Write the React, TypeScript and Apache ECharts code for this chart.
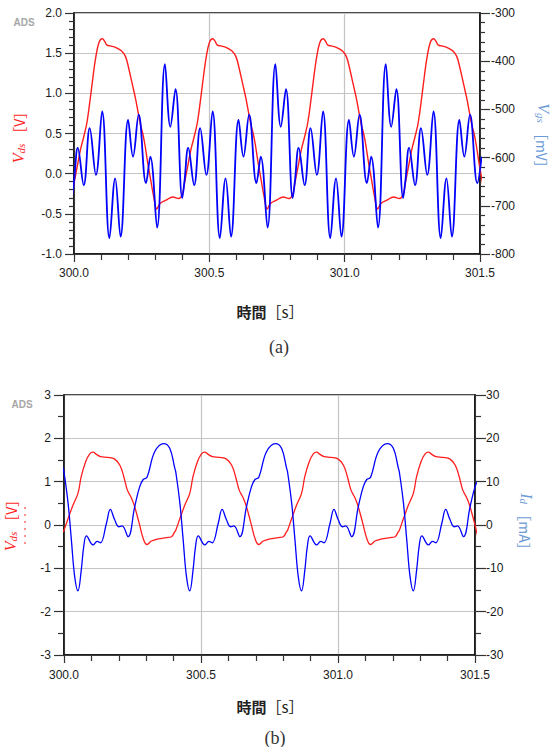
import React, { useEffect, useRef } from "react";
import * as echarts from "echarts";

// Period of the repeating waveform (s), read from successive peaks
const PERIOD_S = 0.408;
const T_START = 300.0;
const T_END = 301.5;

// (a) V_ds [V] over one period: [time offset (s), value]
const vdsA: number[][] = [
  [0.0, -0.12], [0.012, 0.09], [0.024, 0.3], [0.036, 0.46], [0.048, 0.64], [0.061, 0.96],
  [0.07, 1.2], [0.079, 1.42], [0.092, 1.63], [0.105, 1.68], [0.113, 1.65], [0.122, 1.6],
  [0.135, 1.59], [0.155, 1.57], [0.175, 1.53], [0.19, 1.46], [0.203, 1.3], [0.215, 1.12],
  [0.227, 0.94], [0.236, 0.78], [0.246, 0.6], [0.254, 0.5], [0.262, 0.36], [0.272, 0.14],
  [0.283, -0.07], [0.294, -0.28], [0.306, -0.44], [0.318, -0.37], [0.34, -0.33],
  [0.365, -0.29], [0.387, -0.31], [0.4, -0.26],
];

// (a) V_gs [mV] over one period
const vgsA: number[][] = [
  [0.0, -650], [0.014, -580], [0.036, -657], [0.058, -539], [0.081, -636], [0.104, -504],
  [0.131, -767], [0.152, -643], [0.172, -764], [0.2, -522], [0.218, -598], [0.239, -511],
  [0.266, -653], [0.282, -598], [0.307, -745], [0.336, -406], [0.356, -536], [0.375, -458],
  [0.4, -684],
];

// (b) V_ds [V] over one period
const vdsB: number[][] = [
  [0.0, -0.12], [0.015, 0.15], [0.033, 0.46], [0.051, 0.73], [0.063, 1.12], [0.079, 1.46],
  [0.094, 1.64], [0.106, 1.68], [0.118, 1.63], [0.133, 1.58], [0.161, 1.56], [0.185, 1.52],
  [0.204, 1.38], [0.218, 1.12], [0.231, 0.81], [0.244, 0.65], [0.256, 0.46], [0.274, 0.05],
  [0.29, -0.33], [0.303, -0.45], [0.319, -0.37], [0.344, -0.32], [0.374, -0.29],
  [0.392, -0.27], [0.404, -0.16],
];

// (b) I_d [mA] over one period
const idB: number[][] = [
  [0.0, 12.2], [0.015, 5.0], [0.027, -3.5], [0.039, -11.9], [0.051, -15.2], [0.063, -10.4],
  [0.072, -5.0], [0.082, -2.5], [0.106, -4.6], [0.121, -3.8], [0.133, -4.1], [0.155, 0.4],
  [0.169, 3.6], [0.185, 1.2], [0.2, -0.4], [0.212, -0.2], [0.234, -2.7], [0.258, 4.2],
  [0.276, 8.8], [0.289, 10.5], [0.303, 11.0], [0.331, 16.9], [0.364, 18.8], [0.386, 17.7],
  [0.404, 13.2],
];

function tile(pattern: number[][]): number[][] {
  const out: number[][] = [];
  for (let k = -1; k <= 4; k++) {
    for (const [off, v] of pattern) {
      const t = T_START + k * PERIOD_S + off;
      if (t >= T_START - 0.03 && t <= T_END + 0.03) out.push([t, v]);
    }
  }
  return out;
}

const AXIS_FONT = 'Arial, "Liberation Sans", sans-serif';
const RED = "#ff1e1e";
const BLUE = "#0000ff";
const LIGHT_BLUE = "#6b9bd6";

function xAxisCfg(gridIndex: number, margin: number) {
  return {
    gridIndex,
    type: "value",
    min: T_START,
    max: T_END,
    interval: 0.5,
    axisLine: { show: true, onZero: false, lineStyle: { color: "#111", width: 1.6 } },
    axisTick: { show: true, length: 8, lineStyle: { color: "#333", width: 1.2 } },
    minorTick: { show: true, splitNumber: 5, length: 6, lineStyle: { color: "#333", width: 1.2 } },
    axisLabel: {
      formatter: (v: number) => v.toFixed(1),
      fontSize: 12,
      color: "#1a1a1a",
      margin,
      fontFamily: AXIS_FONT,
    },
    splitLine: { show: true, lineStyle: { color: "#c4c4c4", width: 1.2 } },
  };
}

function yAxisCfg(
  gridIndex: number,
  position: string,
  min: number,
  max: number,
  interval: number,
  minorSplit: number,
  fmt: (v: number) => string,
  split: boolean,
  tickLen: number,
  minorLen: number,
  margin: number
) {
  return {
    gridIndex,
    type: "value",
    position,
    min,
    max,
    interval,
    axisLine: { show: true, onZero: false, lineStyle: { color: "#111", width: 1.6 } },
    axisTick: { show: true, length: tickLen, lineStyle: { color: "#333", width: 1.2 } },
    minorTick: { show: true, splitNumber: minorSplit, length: minorLen, lineStyle: { color: "#333", width: 1.2 } },
    axisLabel: { formatter: fmt, fontSize: 12, color: "#1a1a1a", margin, fontFamily: AXIS_FONT },
    splitLine: { show: split, lineStyle: { color: "#c4c4c4", width: 1.2 } },
  };
}

function axisTitle(
  x: number,
  y: number,
  rotation: number,
  main: string,
  sub: string,
  unit: string,
  color: string
) {
  return {
    type: "text",
    x,
    y,
    rotation,
    style: {
      text: `{v|${main}}{s|${sub}}{u|${unit}}`,
      textAlign: "center",
      textVerticalAlign: "middle",
      rich: {
        v: { font: 'italic 16px "Liberation Serif", serif', fill: color, lineHeight: 18, verticalAlign: "bottom" },
        s: { font: 'italic 11px "Liberation Serif", serif', fill: color, lineHeight: 10, verticalAlign: "bottom" },
        u: { font: '14px "Noto Sans CJK JP", sans-serif', fill: color, lineHeight: 18, verticalAlign: "bottom" },
      },
    },
  };
}

export default function App() {
  const ref = useRef<HTMLDivElement>(null);

  useEffect(() => {
    if (!ref.current) return;
    const chart = echarts.init(ref.current, undefined, { renderer: "svg" });
    const option: any = {
      animation: false,
      backgroundColor: "#ffffff",
      grid: [
        { left: 74, top: 13, width: 406, height: 241, show: true, borderColor: "#111", borderWidth: 1.6, backgroundColor: "transparent" },
        { left: 64, top: 395, width: 411, height: 260, show: true, borderColor: "#111", borderWidth: 1.6, backgroundColor: "transparent" },
      ],
      xAxis: [xAxisCfg(0, 13), xAxisCfg(1, 14)],
      yAxis: [
        yAxisCfg(0, "left", -1, 2, 0.5, 5, (v) => v.toFixed(1), true, 9, 5, 12),
        yAxisCfg(0, "right", -800, -300, 100, 5, (v) => String(v), false, 10, 5, 11),
        yAxisCfg(1, "left", -3, 3, 1, 2, (v) => String(v), true, 10, 6, 13),
        yAxisCfg(1, "right", -30, 30, 10, 2, (v) => String(v), false, 11, 6, 11),
      ],
      series: [
        { type: "line", xAxisIndex: 0, yAxisIndex: 0, data: tile(vdsA), smooth: 0.4, symbol: "none", clip: true, silent: true, lineStyle: { color: RED, width: 1.4 } },
        { type: "line", xAxisIndex: 0, yAxisIndex: 1, data: tile(vgsA), smooth: 0.4, symbol: "none", clip: true, silent: true, lineStyle: { color: BLUE, width: 1.8 } },
        { type: "line", xAxisIndex: 1, yAxisIndex: 2, data: tile(vdsB), smooth: 0.4, symbol: "none", clip: true, silent: true, lineStyle: { color: RED, width: 1.3 } },
        { type: "line", xAxisIndex: 1, yAxisIndex: 3, data: tile(idB), smooth: 0.4, symbol: "none", clip: true, silent: true, lineStyle: { color: BLUE, width: 1.3 } },
      ],
      graphic: [
        { type: "text", x: 24, y: 22, style: { text: "ADS", font: 'bold 10px "Liberation Sans", Arial', fill: "#a6a6a6", textAlign: "center", textVerticalAlign: "middle" } },
        { type: "text", x: 22, y: 404, style: { text: "ADS", font: 'bold 10px "Liberation Sans", Arial', fill: "#a6a6a6", textAlign: "center", textVerticalAlign: "middle" } },
        axisTitle(17, 134, Math.PI / 2, "V", "ds", " ［V］", RED),
        axisTitle(544, 139, -Math.PI / 2, "V", "gs", " ［mV］", LIGHT_BLUE),
        axisTitle(9, 522, Math.PI / 2, "V", "ds", " ［V］", RED),
        axisTitle(527, 525, -Math.PI / 2, "I", "d", " ［mA］", LIGHT_BLUE),
        { type: "line", shape: { x1: 25, y1: 507, x2: 25, y2: 548 }, style: { stroke: RED, lineWidth: 1, lineDash: [2, 5] } },
        {
          type: "text", x: 270, y: 311,
          style: {
            text: "{b|時間}{r|［s］}", textAlign: "center", textVerticalAlign: "middle",
            rich: {
              b: { font: 'bold 15px "Noto Sans CJK JP", sans-serif', fill: "#222" },
              r: { font: '15px "Noto Sans CJK JP", sans-serif', fill: "#222" },
            },
          },
        },
        {
          type: "text", x: 270, y: 706,
          style: {
            text: "{b|時間}{r|［s］}", textAlign: "center", textVerticalAlign: "middle",
            rich: {
              b: { font: 'bold 15px "Noto Sans CJK JP", sans-serif', fill: "#222" },
              r: { font: '15px "Noto Sans CJK JP", sans-serif', fill: "#222" },
            },
          },
        },
        { type: "text", x: 279, y: 347, style: { text: "(a)", font: '18px "Liberation Serif", serif', fill: "#333", textAlign: "center", textVerticalAlign: "middle" } },
        { type: "text", x: 275, y: 738, style: { text: "(b)", font: '18px "Liberation Serif", serif', fill: "#333", textAlign: "center", textVerticalAlign: "middle" } },
      ],
    };
    chart.setOption(option);
    return () => chart.dispose();
  }, []);

  return (
    <div
      ref={ref}
      style={{ position: "absolute", left: 0, top: 0, width: 555, height: 747 }}
    />
  );
}
